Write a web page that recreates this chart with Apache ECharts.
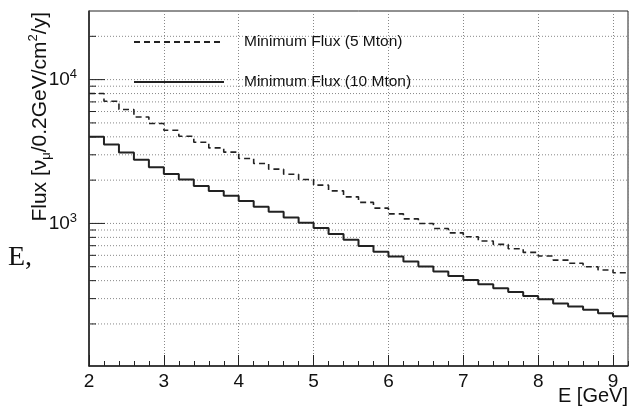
<!DOCTYPE html>
<html>
<head>
<meta charset="utf-8">
<script src="https://cdn.jsdelivr.net/npm/echarts@6/dist/echarts.min.js"></script>
<style>html,body{margin:0;padding:0;background:#fff}#c{width:629px;height:411px}</style>
</head>
<body>
<div id="c"></div>
<script>
// Bin edges (GeV), 0.2 GeV bins
const binEdges = [2.0,2.2,2.4,2.6,2.8,3.0,3.2,3.4,3.6,3.8,4.0,4.2,4.4,4.6,4.8,5.0,5.2,5.4,5.6,5.8,6.0,6.2,6.4,6.6,6.8,7.0,7.2,7.4,7.6,7.8,8.0,8.2,8.4,8.6,8.8,9.0,9.2];
// Minimum Flux (5 Mton), per bin
const flux5Mton = [8000,7070,6190,5500,4950,4445,4040,3670,3350,3130,2830,2610,2385,2200,2020,1845,1685,1530,1400,1277,1166,1076,1000,923,860,807,754,715,666,629,593,556,528,500,474,454];
// Minimum Flux (10 Mton), per bin
const flux10Mton = [4000,3540,3110,2770,2460,2210,2020,1820,1680,1555,1430,1305,1205,1100,1010,928,843,769,696,635,590,543,501,464,431,404,377,354,333,313,297,278,264,251,237,226];
const seriesNames = ['Minimum Flux (5 Mton)', 'Minimum Flux (10 Mton)'];
const xTickLabels = [2,3,4,5,6,7,8,9];
const yMajorTicks = [1000, 10000];
const yMinorTicks = [200,300,400,500,600,700,800,900,2000,3000,4000,5000,6000,7000,8000,9000,20000];
const xMin = 2, xMax = 9.2, yMin = 102, yMax = 30000;

function toSteps(vals) {
  return binEdges.map((x, i) => [x, vals[Math.min(i, vals.length - 1)]]);
}
const FONT = 'Liberation Sans, Arial, Helvetica, sans-serif';
const gridVals = yMajorTicks.concat(yMinorTicks);

const chart = echarts.init(document.getElementById('c'), null, {renderer: 'canvas'});
chart.setOption({
  animation: false,
  backgroundColor: '#fff',
  grid: {left: 89, right: 1, top: 11, bottom: 45, show: true, borderColor: '#222', borderWidth: 1, backgroundColor: 'transparent'},
  legend: {
    orient: 'vertical', left: 128, top: 27,
    itemWidth: 90, itemHeight: 20, itemGap: 20,
    itemStyle: {opacity: 0},
    textStyle: {fontFamily: FONT, fontSize: 15.5, color: '#111', padding: [0, 0, 0, 15], lineHeight: 20},
    data: seriesNames
  },
  xAxis: [{
    type: 'value', min: xMin, max: xMax, interval: 1,
    axisLine: {show: true, lineStyle: {color: '#222', width: 1.5}},
    axisTick: {show: true, inside: true, length: 11, lineStyle: {color: '#222', width: 1}},
    axisLabel: {show: true, fontFamily: FONT, fontSize: 19, color: '#111', margin: 6, showMaxLabel: false,
      formatter: v => xTickLabels.includes(Math.round(v * 1000) / 1000) ? String(Math.round(v)) : ''},
    splitLine: {show: true, lineStyle: {color: '#888', type: [1, 2], width: 1}}
  }, {
    type: 'value', min: xMin, max: xMax, interval: 0.2, position: 'bottom',
    axisLine: {show: false},
    axisTick: {show: true, inside: true, length: 5, lineStyle: {color: '#222', width: 1}},
    axisLabel: {show: false},
    splitLine: {show: false}
  }],
  yAxis: {
    type: 'log', logBase: 10, min: yMin, max: yMax,
    axisLine: {show: true, lineStyle: {color: '#222', width: 1.5}},
    axisTick: {show: false},
    splitLine: {show: false},
    axisLabel: {
      margin: 12, color: '#111',
      formatter: v => {
        const l = Math.log10(v), e = Math.round(l);
        if (Math.abs(l - e) < 1e-6 && yMajorTicks.includes(Math.pow(10, e))) return '{m|10}{sup|' + e + '}';
        return '';
      },
      rich: {
        m: {fontFamily: FONT, fontSize: 19, lineHeight: 24, color: '#111', verticalAlign: 'middle'},
        sup: {fontFamily: FONT, fontSize: 13, lineHeight: 14, color: '#111', verticalAlign: 'top'}
      }
    }
  },
  graphic: [
    {type: 'text', x: 40, y: 12, rotation: Math.PI / 2, silent: true,
      style: {
        text: '{m|Flux [ν}{sub|μ}{m|/0.2GeV/cm}{sup|2}{m|/y]}',
        align: 'right', verticalAlign: 'middle',
        rich: {
          m: {fontFamily: FONT, fontSize: 21, lineHeight: 26, fill: '#111', verticalAlign: 'middle'},
          sub: {fontFamily: FONT, fontSize: 13, lineHeight: 14, fill: '#111', verticalAlign: 'bottom'},
          sup: {fontFamily: FONT, fontSize: 13, lineHeight: 14, fill: '#111', verticalAlign: 'top'}
        }
      }},
    {type: 'text', x: 628, y: 396, silent: true,
      style: {text: 'E [GeV]', font: '20px ' + FONT, fill: '#111', align: 'right', verticalAlign: 'middle'}},
    {type: 'text', x: 8, y: 258, silent: true,
      style: {text: 'E,', font: '28px "Liberation Serif", "DejaVu Serif", serif', fill: '#111', align: 'left', verticalAlign: 'middle'}}
  ],
  series: [
    {
      type: 'custom', name: 'ygrid', silent: true, z: 1,
      xAxisIndex: 0, yAxisIndex: 0,
      data: gridVals.map(v => [xMin, v]),
      renderItem: (params, api) => {
        const v = api.value(1);
        const p0 = api.coord([xMin, v]);
        const p1 = api.coord([xMax, v]);
        const major = yMajorTicks.includes(v);
        return {type: 'group', children: [
          {type: 'line', shape: {x1: p0[0], y1: p0[1], x2: p1[0], y2: p1[1]}, style: {stroke: '#888', lineWidth: 1, lineDash: [1, 2]}},
          {type: 'line', shape: {x1: p0[0], y1: p0[1], x2: p0[0] + (major ? 16 : 7), y2: p0[1]}, style: {stroke: '#222', lineWidth: 1}}
        ]};
      }
    },
    {
      name: seriesNames[0], type: 'line', step: 'end', showSymbol: false, symbol: 'none', z: 3,
      data: toSteps(flux5Mton),
      lineStyle: {color: '#222', width: 1.6, type: [6, 4]},
      itemStyle: {color: '#222', opacity: 0}
    },
    {
      name: seriesNames[1], type: 'line', step: 'end', showSymbol: false, symbol: 'none', z: 3,
      data: toSteps(flux10Mton),
      lineStyle: {color: '#222', width: 2, type: 'solid'},
      itemStyle: {color: '#222', opacity: 0}
    }
  ]
});
</script>
</body>
</html>
